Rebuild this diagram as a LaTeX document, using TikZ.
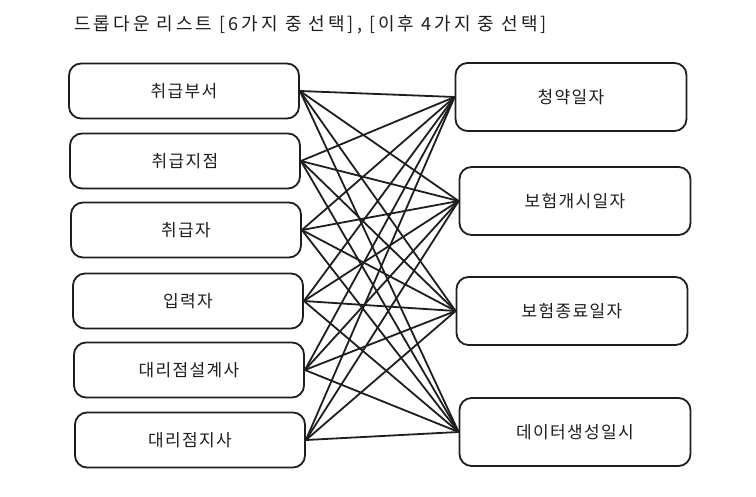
\documentclass[tikz,border=0pt]{standalone}
\usepackage{fontspec}
\setmainfont{Noto Sans CJK KR}
\usepackage{xcolor}
\definecolor{inkblack}{RGB}{30,30,30}

\tikzset{
  listbox/.style={draw=inkblack, line width=1.8pt, rounded corners=12pt,
    inner sep=0pt, text=inkblack,
    font=\fontsize{17}{19}\selectfont\addfontfeature{LetterSpace=8}},
  leftbox/.style={listbox, minimum width=230pt, minimum height=55pt},
  rightbox/.style={listbox, minimum width=231pt, minimum height=68pt},
  linkline/.style={draw=inkblack, line width=1.8pt}
}

\begin{document}
\begin{tikzpicture}[x=1pt,y=-1pt]
  % 캔버스 크기
  \useasboundingbox (0,0) rectangle (756,497);

  % 제목
  \node[anchor=west, inner sep=0pt, text=inkblack,
    font=\fontsize{18}{20}\selectfont\addfontfeature{LetterSpace=17}]
    (title) at (74,25) {드롭다운 리스트 [6가지 중 선택], [이후 4가지 중 선택]};

  % 왼쪽 목록 (6가지)
  \node[leftbox] (l1) at (184,91) {취급부서};
  \node[leftbox] (l2) at (185,161) {취급지점};
  \node[leftbox] (l3) at (186,230) {취급자};
  \node[leftbox] (l4) at (188,301) {입력자};
  \node[leftbox] (l5) at (189,370) {대리점설계사};
  \node[leftbox] (l6) at (190,440) {대리점지사};

  % 오른쪽 목록 (4가지)
  \node[rightbox] (r1) at (571,97) {청약일자};
  \node[rightbox] (r2) at (575,201) {보험개시일자};
  \node[rightbox] (r3) at (572,311) {보험종료일자};
  \node[rightbox] (r4) at (575,432) {데이터생성일시};

  % 연결선
  \foreach \i in {1,...,6}
    \foreach \j in {1,...,4}
      \draw[linkline] (l\i.east) -- (r\j.west);
\end{tikzpicture}
\end{document}
